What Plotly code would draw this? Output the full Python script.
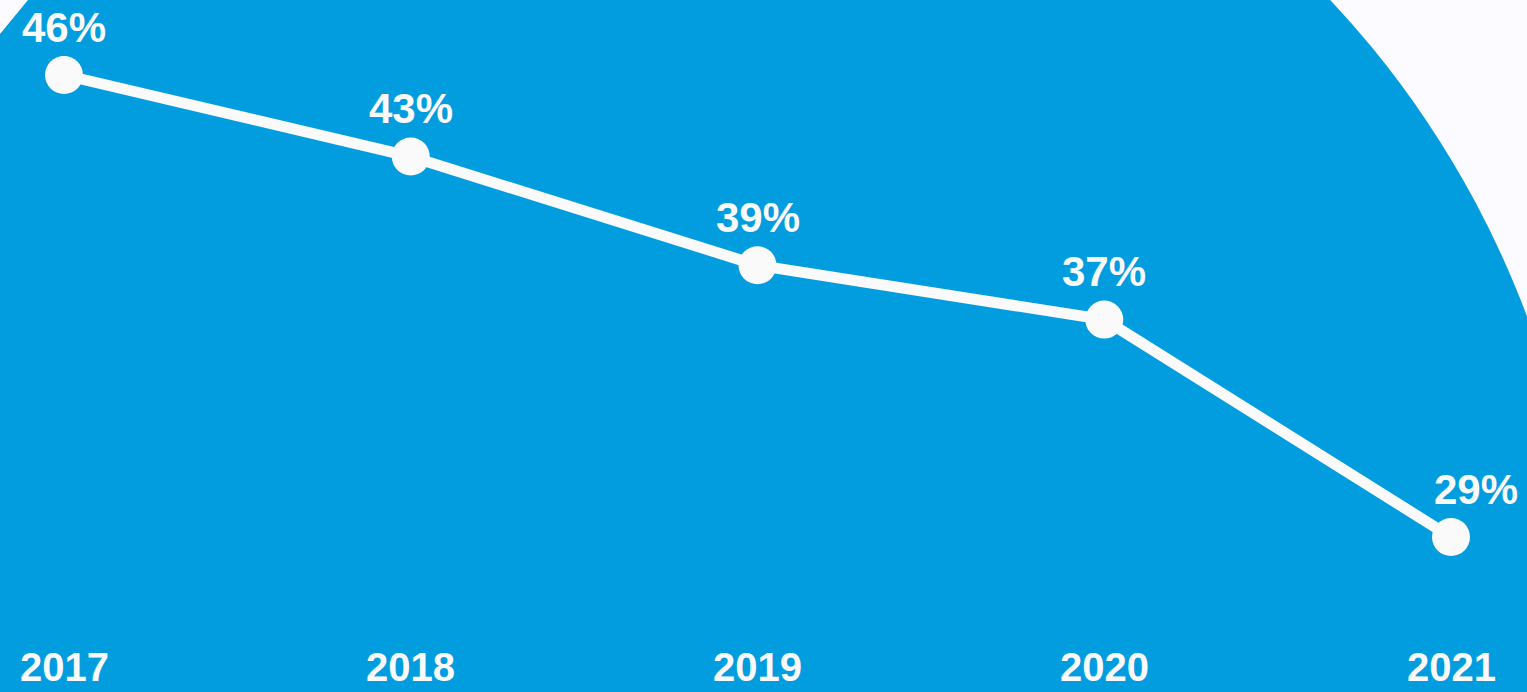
import plotly.graph_objects as go

years = ["2017", "2018", "2019", "2020", "2021"]
shares = [46, 43, 39, 37, 29]
labels = ["46%", "43%", "39%", "37%", "29%"]
label_xshift = [0, 0, 0, 0, 25]

W, H = 1527, 692
BLUE = "#029DDE"
WHITE = "#FCFBFF"
MARK = "#FAFAFA"

fig = go.Figure()
fig.add_trace(go.Scatter(
    x=list(range(len(years))), y=shares, mode="lines+markers",
    line=dict(color=MARK, width=11),
    marker=dict(color=MARK, size=38),
    hoverinfo="skip", showlegend=False,
))

annotations = []
for i, (lab, v) in enumerate(zip(labels, shares)):
    annotations.append(dict(
        x=i, y=v, xref="x", yref="y", text=f"<b>{lab}</b>", showarrow=False,
        xanchor="center", yanchor="middle", yshift=48, xshift=label_xshift[i],
        font=dict(family="Liberation Sans, Arial", size=42, color=MARK),
    ))
for i, yr in enumerate(years):
    annotations.append(dict(
        x=i, y=0, xref="x", yref="paper", text=f"<b>{yr}</b>", showarrow=False,
        xanchor="center", yanchor="middle", yshift=25,
        font=dict(family="Liberation Sans, Arial", size=40, color=MARK),
    ))

# background: big blue circle, white corners
cx, cy, r = 641, 648, 946
def px(x):
    return x / W
def py(y):
    return (H - y) / H

shapes = [
    dict(type="circle", xref="paper", yref="paper",
         x0=px(cx - r), x1=px(cx + r), y0=py(cy + r), y1=py(cy - r),
         fillcolor=BLUE, line=dict(width=0), layer="below"),
    dict(type="path", xref="paper", yref="paper",
         path=f"M 0 1 L {px(28)} 1 L 0 {py(34)} Z",
         fillcolor=WHITE, line=dict(width=0), layer="below"),
]

fig.update_layout(
    width=W, height=H,
    margin=dict(l=0, r=0, t=0, b=0),
    paper_bgcolor=WHITE, plot_bgcolor="rgba(0,0,0,0)",
    xaxis=dict(range=[-64 / 346.75, (W - 64) / 346.75], visible=False, fixedrange=True),
    yaxis=dict(range=[46 - 617 / 27.18, 46 + 75 / 27.18], visible=False, fixedrange=True),
    annotations=annotations, shapes=shapes,
)

fig.write_html(
    "out.html",
    config={"displayModeBar": False},
    post_script="document.body.style.margin='0';document.body.style.overflow='hidden';",
)
